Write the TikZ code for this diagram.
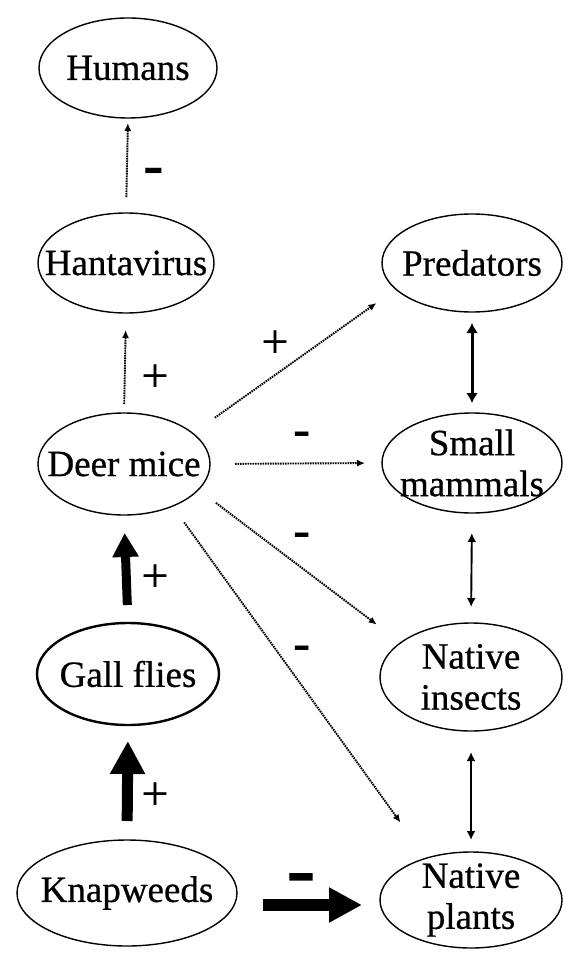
\documentclass[tikz,border=0pt]{standalone}
\usepackage{fontspec}
\setmainfont{Liberation Serif}
\newfontfamily\labelfont[FakeBold=0.6]{Liberation Serif}
\usetikzlibrary{shapes.geometric,arrows.meta,calc}
\begin{document}
\begin{tikzpicture}[x=1pt,y=-1pt,
  ell/.style args={#1/#2}{ellipse, draw, line width=1.4pt, inner sep=0pt, outer sep=0pt,
    minimum width=#1pt, minimum height=#2pt},
  every label/.style={font=\labelfont\fontsize{37}{41}\selectfont, align=center, inner sep=0pt},
  dotarr/.style={line width=1.9pt, dash pattern=on 1.6pt off 0.9pt,
    -{Latex[length=8pt,width=7pt]}},
  dblarr/.style={line width=#1, {Latex[length=9pt,width=9pt]}-{Latex[length=9pt,width=9pt]}},
  plus/.style={font=\labelfont\fontsize{48}{48}\selectfont, inner sep=0pt},
  minus/.style={font=\fontsize{#1}{#1}\selectfont\bfseries, inner sep=0pt}
]
\fill[white] (0,0) rectangle (570,957);
\useasboundingbox (0,0) rectangle (570,957);

% nodes
\node[ell=178/100, label=center:Humans] (hum) at (128,68) {};
\node[ell=176/100, label=center:Hantavirus] (hanta) at (126,263) {};
\node[ell=172/102, label=center:Deer mice] (deer) at (124,464) {};
\node[ell=182/102, line width=2.4pt, label=center:Gall flies] (gall) at (128,674) {};
\node[ell=220/106, label=center:Knapweeds] (knap) at (127,893) {};
\node[ell=180/98, label=center:Predators] (pred) at (472,263) {};
\node[ell=180/100, label={center:Small\\mammals}] (sm) at (472,463) {};
\node[ell=182/108, label={center:Native\\insects}] (ni) at (471,677) {};
\node[ell=182/96, label={center:Native\\plants}] (np) at (471,900) {};

% dotted arrows
\draw[dotarr, shorten <=16pt, shorten >=5pt] (hanta.north) -- (hum.south);
\draw[dotarr, shorten <=9pt, shorten >=17pt] (deer.north) -- (hanta.south);
\draw[dotarr, shorten <=27pt, shorten >=24pt] (deer.24) -- (pred.199);
\draw[dotarr, shorten <=25pt, shorten >=17pt] (deer.east) -- (sm.west);
\draw[dotarr, shorten <=22pt, shorten >=30pt] (deer.341) -- (ni.154);
\draw[dotarr, shorten <=20pt, shorten >=44pt] (deer.319) -- (np.137);

% thick arrows
\draw[line width=9pt, -{Triangle[length=24pt,width=25pt]}, shorten <=18pt, shorten >=18pt]
  (gall.north) -- (deer.south);
\draw[line width=11pt, -{Triangle[length=33pt,width=33pt]}, shorten <=19pt, shorten >=16pt]
  (knap.north) -- (gall.south);
\draw[line width=12pt, -{Triangle[length=33pt,width=33pt]}, shorten <=26pt, shorten >=18pt]
  ([yshift=-5pt]np.west -| knap.east) -- ([yshift=-5pt]np.west);

% double arrows
\draw[dblarr=3pt, {Latex[length=10pt,width=12pt]}-{Latex[length=10pt,width=12pt]},
  shorten <=11pt, shorten >=10pt] (pred.south) -- (sm.north);
\draw[dblarr=1.9pt, shorten <=20pt, shorten >=16pt] (sm.south) -- (ni.north);
\draw[dblarr=1.9pt, shorten <=21pt, shorten >=12pt] (ni.south) -- (np.north);

% signs
\node[minus=62] (m1) at (154,177) {-};
\node[plus] (p1) at (155,378) {+};
\node[plus] (p2) at (275,344) {+};
\node[minus=52] (m2) at (302,439) {-};
\node[minus=52] (m3) at (302,540) {-};
\node[minus=52] (m4) at (302,653) {-};
\node[plus] (p3) at (155,578) {+};
\node[plus] (p4) at (155,796) {+};
\node[minus=90] (m5) at (301,886) {-};
\end{tikzpicture}
\end{document}
